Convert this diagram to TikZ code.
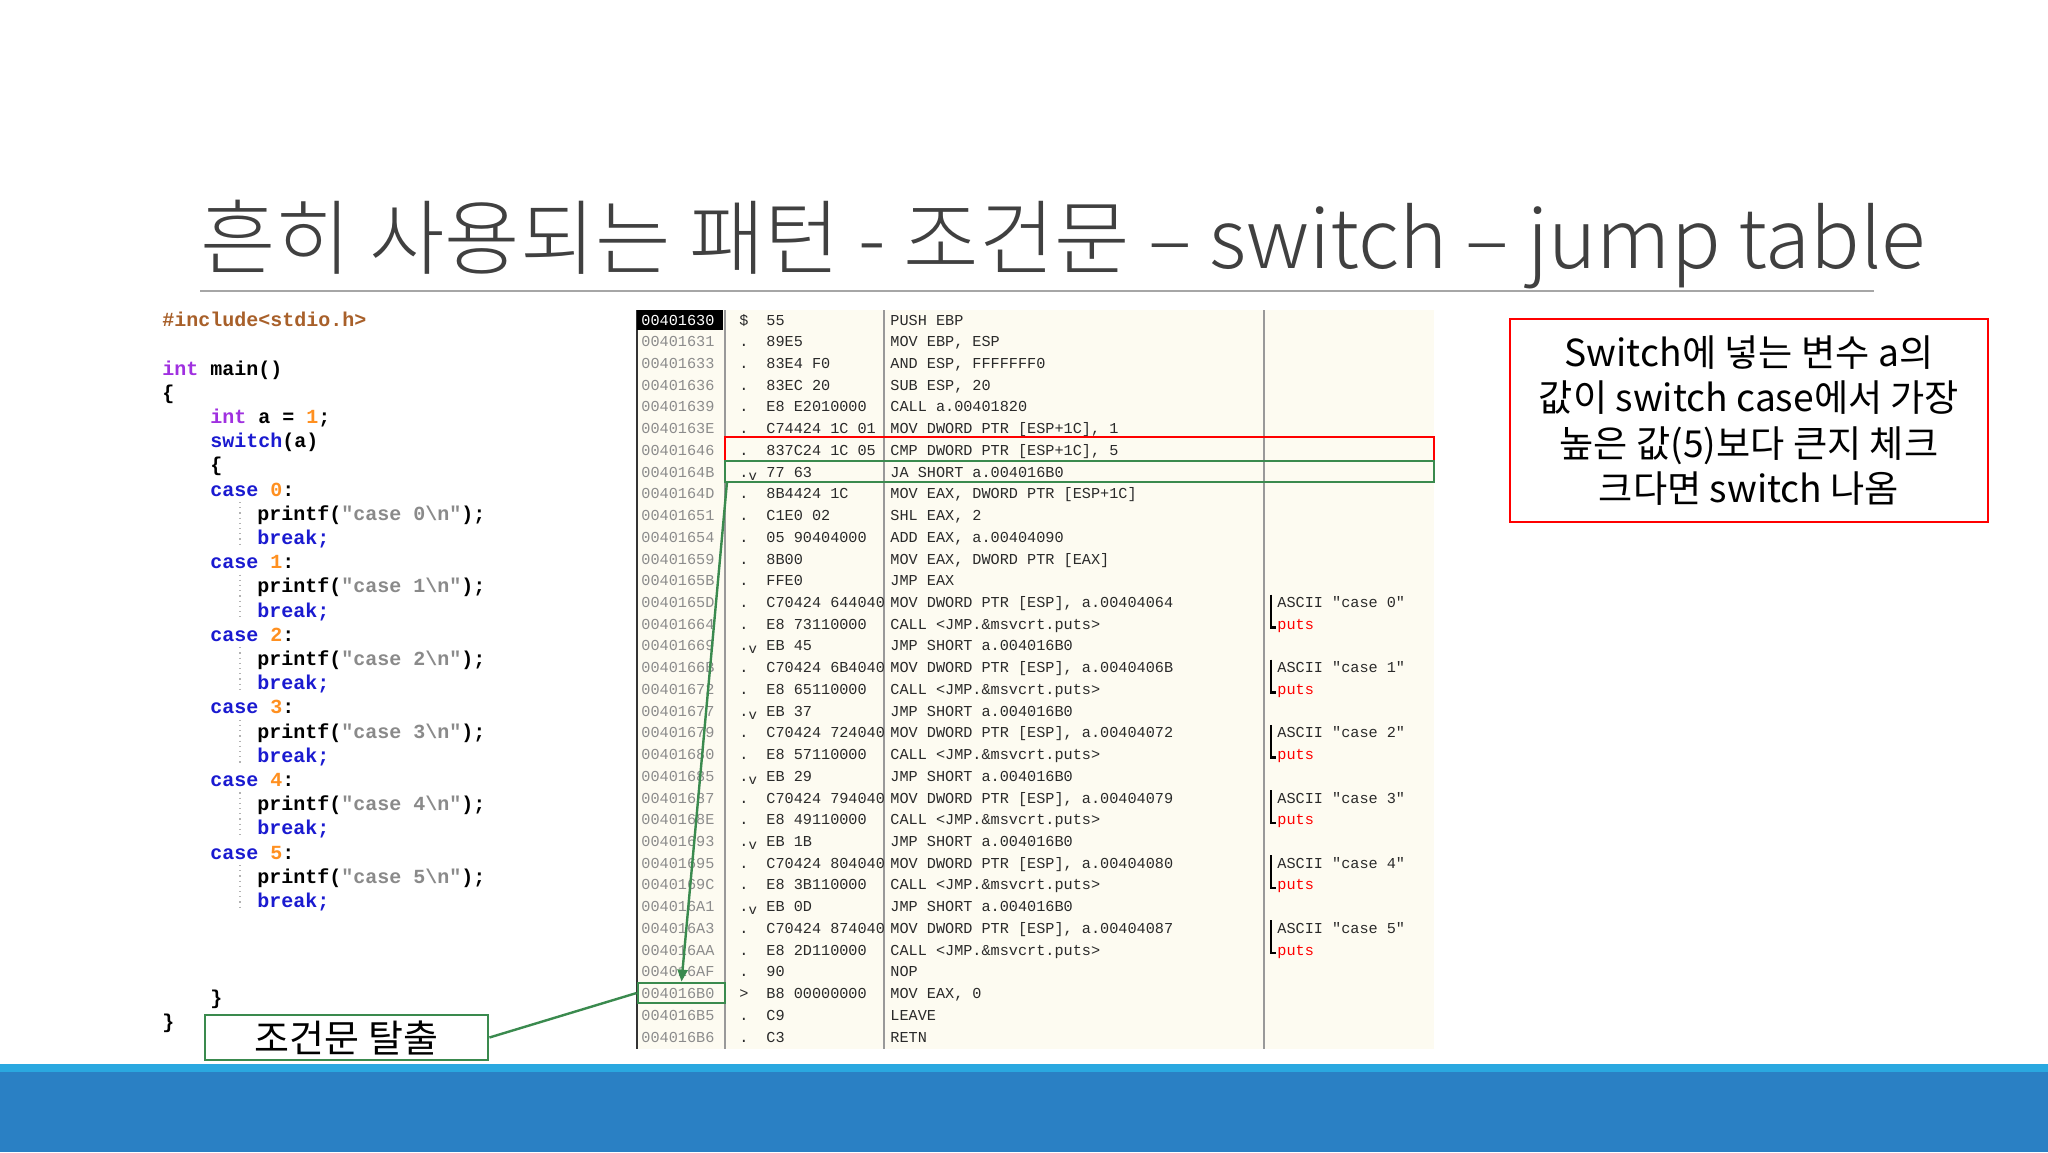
\documentclass[tikz,border=0pt]{standalone}
\usepackage{fontspec}
\setmainfont{Liberation Sans}
\newfontfamily\kr{Noto Sans CJK KR}
\newfontfamily\krl{Noto Sans CJK KR Light}
\newfontfamily\cm{Liberation Mono}
\usetikzlibrary{arrows.meta}
\definecolor{titlec}{HTML}{404040}
\definecolor{kwc}{HTML}{1A1AD0}
\definecolor{typc}{HTML}{A030E0}
\definecolor{numc}{HTML}{FF9020}
\definecolor{strc}{HTML}{8A8A8A}
\definecolor{incc}{HTML}{A8602A}
\definecolor{asmbg}{HTML}{FDFBF1}
\definecolor{addrc}{HTML}{8C8C8C}
\definecolor{asmtx}{HTML}{2A2A2A}
\definecolor{gbox}{HTML}{3A8A4E}
\definecolor{barlight}{HTML}{2AA8E0}
\definecolor{bardark}{HTML}{2A80C4}
\tikzset{
  code/.style={anchor=base west,inner sep=0pt,font=\cm\bfseries\fontsize{10}{10}\selectfont},
  asm/.style={anchor=base west,inner sep=0pt,font=\cm\fontsize{7.6}{8}\selectfont,text=asmtx},
  addr/.style={asm,text=addrc},
  redc/.style={asm,text=red},
  gline/.style={draw=gbox,line width=1.2pt},
}
\begin{document}
\begin{tikzpicture}[x=0.5pt,y=-0.5pt]
\useasboundingbox (0,0) rectangle (2048,1152);
\fill[white] (0,0) rectangle (2048,1152);
% title
\node[anchor=base west,inner sep=0pt,text=titlec,font=\krl\fontsize{41}{44}\selectfont] (title) at (200,268) {흔히 사용되는 패턴 - 조건문 – switch – jump table};
\draw[gray!70,line width=0.8pt] (200,291) coordinate (ul1) -- (1874,291) coordinate (ul2);
% bottom bar
\fill[barlight] (0,1064) rectangle (2048,1072);
\fill[bardark] (0,1072) rectangle (2048,1152);
% source code
\def\ly#1{375+24.2*(#1)}
\node[code,text=incc] (c0) at (162,{\ly{-2}}) {\#include<stdio.h>};
\node[code] (c1) at (162,{\ly{0}}) {\textcolor{typc}{int} main()};
\node[code] (c2) at (162,{\ly{1}}) {\{};
\node[code] (c3) at (210,{\ly{2}}) {\textcolor{typc}{int} a = \textcolor{numc}{1};};
\node[code] (c4) at (210,{\ly{3}}) {\textcolor{kwc}{switch}(a)};
\node[code] (c5) at (210,{\ly{4}}) {\{};
\foreach \k in {0,...,5}{
  \node[code] (case\k) at (210,{\ly{5+3*\k}}) {\textcolor{kwc}{case} \textcolor{numc}{\k}:};
  \node[code] (pf\k) at (257,{\ly{6+3*\k}}) {printf(\textcolor{strc}{"case \k\textbackslash n"});};
  \node[code,text=kwc] (br\k) at (257,{\ly{7+3*\k}}) {break;};
  \draw[gray!60,dotted,line width=0.6pt] (240,{\ly{5+3*\k}+6}) -- (240,{\ly{7+3*\k}+4});
}
\node[code] (c6) at (210,{\ly{26}}) {\}};
\node[code] (c7) at (162,{\ly{27}}) {\}};
% assembly panel
\fill[asmbg] (636,310) rectangle (1434,1049);
\draw[gray!80,line width=0.6pt] (725,310) -- (725,1049) (884,310) -- (884,1049) (1264,310) -- (1264,1049);
\draw[black!80,line width=1.2pt] (637,310) -- (637,1049);
\fill[black] (637,310) rectangle (723,330);
\def\ry#1{320+21.73*(#1)}
\foreach[count=\i from 0] \ad/\mk/\hx/\ins in {
00401630/\$/55/PUSH EBP,
00401631/./89E5/{MOV EBP, ESP},
00401633/./83E4 F0/{AND ESP, FFFFFFF0},
00401636/./83EC 20/{SUB ESP, 20},
00401639/./E8 E2010000/CALL a.00401820,
0040163E/./C74424 1C 01/{MOV DWORD PTR [ESP+1C], 1},
00401646/./837C24 1C 05/{CMP DWORD PTR [ESP+1C], 5},
0040164B/.\raisebox{-1.5pt}{\scriptsize v}/77 63/JA SHORT a.004016B0,
0040164D/./8B4424 1C/{MOV EAX, DWORD PTR [ESP+1C]},
00401651/./C1E0 02/{SHL EAX, 2},
00401654/./05 90404000/{ADD EAX, a.00404090},
00401659/./8B00/{MOV EAX, DWORD PTR [EAX]},
0040165B/./FFE0/JMP EAX,
0040165D/./C70424 644040/{MOV DWORD PTR [ESP], a.00404064},
00401664/./E8 73110000/CALL <JMP.\&msvcrt.puts>,
00401669/.\raisebox{-1.5pt}{\scriptsize v}/EB 45/JMP SHORT a.004016B0,
0040166B/./C70424 6B4040/{MOV DWORD PTR [ESP], a.0040406B},
00401672/./E8 65110000/CALL <JMP.\&msvcrt.puts>,
00401677/.\raisebox{-1.5pt}{\scriptsize v}/EB 37/JMP SHORT a.004016B0,
00401679/./C70424 724040/{MOV DWORD PTR [ESP], a.00404072},
00401680/./E8 57110000/CALL <JMP.\&msvcrt.puts>,
00401685/.\raisebox{-1.5pt}{\scriptsize v}/EB 29/JMP SHORT a.004016B0,
00401687/./C70424 794040/{MOV DWORD PTR [ESP], a.00404079},
0040168E/./E8 49110000/CALL <JMP.\&msvcrt.puts>,
00401693/.\raisebox{-1.5pt}{\scriptsize v}/EB 1B/JMP SHORT a.004016B0,
00401695/./C70424 804040/{MOV DWORD PTR [ESP], a.00404080},
0040169C/./E8 3B110000/CALL <JMP.\&msvcrt.puts>,
004016A1/.\raisebox{-1.5pt}{\scriptsize v}/EB 0D/JMP SHORT a.004016B0,
004016A3/./C70424 874040/{MOV DWORD PTR [ESP], a.00404087},
004016AA/./E8 2D110000/CALL <JMP.\&msvcrt.puts>,
004016AF/./90/NOP,
004016B0/>/B8 00000000/{MOV EAX, 0},
004016B5/./C9/LEAVE,
004016B6/./C3/RETN}{
  \ifnum\i=0
    \node[addr,text=white] (ad\i) at (641,{\ry{\i}+5}) {\ad};
  \else
    \node[addr] (ad\i) at (641,{\ry{\i}+5}) {\ad};
  \fi
  \node[asm] (mk\i) at (739,{\ry{\i}+5}) {\mk};
  \node[asm] (hx\i) at (766,{\ry{\i}+5}) {\hx};
  \node[asm,fill=asmbg,inner xsep=1pt] (in\i) at (888,{\ry{\i}+5}) {\ins};
}
% comments
\foreach \k [evaluate=\k as \r using int(13+3*\k)] in {0,...,5}{
  \node[asm] (cm\k) at (1277,{\ry{\r}+5}) {ASCII "case \k"};
  \node[redc] (pu\k) at (1277,{\ry{\r+1}+5}) {puts};
  \draw[black,line width=1.3pt] (1271,{\ry{\r}-8}) -- (1271,{\ry{\r+1}+3}) -- (1276,{\ry{\r+1}+3});
}
% highlight boxes
\draw[red,line width=1.4pt] (725,437) rectangle (1434,461);
\draw[gline] (725,461) rectangle (1434,482);
\node[draw=gbox,line width=1.4pt,minimum width=87pt*0.5,minimum height=20pt*0.5,inner sep=0pt] (tgt) at (681.5,993) {};
\coordinate (jsrc) at (727,482);
\draw[gline,-{Triangle[length=6pt,width=5pt]}] (jsrc) -- (tgt.north);
% exit box
\node[draw=gbox,line width=1.4pt,minimum width=283pt*0.5,minimum height=45pt*0.5,inner sep=0pt,font=\kr\fontsize{19}{20}\selectfont] (exitb) at (346.5,1037.5) {조건문 탈출};
\draw[gline] (exitb.east) -- (tgt.west);
% note box
\node[draw=red,line width=1.4pt,minimum width=478pt*0.5,minimum height=203pt*0.5,inner sep=0pt,align=center,font=\kr\fontsize{18.6}{22.6}\selectfont] (note) at (1749,420.5) {Switch에 넣는 변수 a의\\값이 switch case에서 가장\\높은 값(5)보다 큰지 체크\\크다면 switch 나옴};
\end{tikzpicture}
\end{document}
